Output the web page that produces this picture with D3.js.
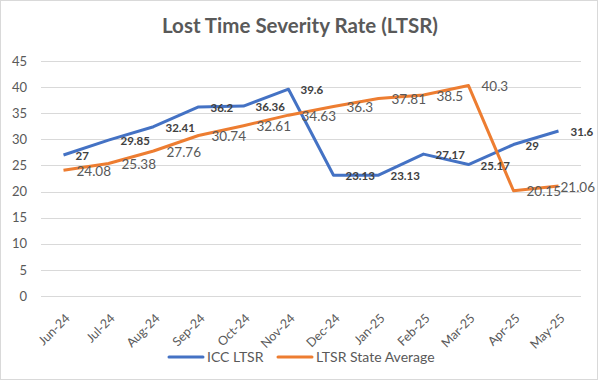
<!DOCTYPE html>
<html><head><meta charset="utf-8">
<script src="https://cdn.jsdelivr.net/npm/d3@7"></script>
<style>html,body{margin:0;padding:0;background:#fff}svg{display:block}</style>
</head><body><div id="chart"></div>
<script>
const months = ["Jun-24","Jul-24","Aug-24","Sep-24","Oct-24","Nov-24","Dec-24","Jan-25","Feb-25","Mar-25","Apr-25","May-25"];
const iccLtsr = [27, 29.85, 32.41, 36.2, 36.36, 39.6, 23.13, 23.13, 27.17, 25.17, 29, 31.6];
const stateAvg = [24.08, 25.38, 27.76, 30.74, 32.61, 34.63, 36.3, 37.81, 38.5, 40.3, 20.15, 21.06];
const yTicks = [0, 5, 10, 15, 20, 25, 30, 35, 40, 45];
const seriesNames = ["ICC LTSR", "LTSR State Average"];
const colors = ["#4472C4", "#ED7D31"];

const W = 600, H = 382;
const font = "Lato, 'Open Sans', sans-serif";
const svg = d3.select("#chart").append("svg").attr("width", W).attr("height", H);

svg.append("rect").attr("x", 0.5).attr("y", 0.5).attr("width", 597).attr("height", 379)
  .attr("fill", "#fff").attr("stroke", "#d9d9d9");

svg.append("text").attr("x", 300).attr("y", 33).attr("text-anchor", "middle")
  .attr("font-family", font).attr("font-weight", "bold").attr("font-size", 20.5)
  .attr("fill", "#595959").text("Lost Time Severity Rate (LTSR)");

const x = d3.scalePoint().domain(months).range([41, 581]).padding(0.5);
const y = d3.scaleLinear().domain([0, 45]).range([296, 61]);

const grid = svg.append("g");
grid.selectAll("line").data(yTicks).join("line")
  .attr("x1", 41).attr("x2", 581)
  .attr("y1", d => Math.round(y(d)) + 0.5).attr("y2", d => Math.round(y(d)) + 0.5)
  .attr("stroke", "#d9d9d9").attr("stroke-width", 1);

const yAxis = svg.append("g").attr("transform", "translate(41,0)")
  .call(d3.axisLeft(y).tickValues(yTicks).tickSize(0).tickPadding(14));
yAxis.select(".domain").remove();
yAxis.selectAll("text").attr("font-family", font).attr("font-size", 13).attr("fill", "#595959");

const xAxis = svg.append("g");
xAxis.selectAll("text").data(months).join("text")
  .attr("transform", d => `translate(${x(d) + 4},${316}) rotate(-45)`)
  .attr("text-anchor", "end").attr("dy", "0.35em")
  .attr("font-family", font).attr("font-size", 12.5).attr("fill", "#595959")
  .text(d => d);

const line = d3.line().x((d, i) => x(months[i])).y(d => y(d));
const allSeries = [iccLtsr, stateAvg];
allSeries.forEach((s, k) => {
  svg.append("path").datum(s).attr("d", line).attr("fill", "none")
    .attr("stroke", colors[k]).attr("stroke-width", 3).attr("stroke-linejoin", "round");
});

// data labels (right of points), kept inside the chart area
function placeLabels(sel, offset) {
  sel.each(function(d, i) {
    const w = this.getComputedTextLength();
    const px = x(months[i]) + offset;
    d3.select(this).attr("x", Math.min(px, 595 - w));
  });
}
svg.append("g").selectAll("text").data(iccLtsr).join("text")
  .attr("y", d => y(d) + 1)
  .attr("dy", "0.35em").attr("font-family", font).attr("font-weight", "bold")
  .attr("font-size", 11.5).attr("fill", "#404040").text(d => d)
  .call(placeLabels, 12);
svg.append("g").selectAll("text").data(stateAvg).join("text")
  .attr("y", d => y(d) + 1)
  .attr("dy", "0.35em").attr("font-family", font)
  .attr("font-size", 13.5).attr("fill", "#595959").text(d => d)
  .call(placeLabels, 13);

// legend
const legendItems = [{x: 169, tx: 207}, {x: 278, tx: 316}];
legendItems.forEach((l, k) => {
  svg.append("line").attr("x1", l.x).attr("x2", l.x + 34).attr("y1", 357).attr("y2", 357)
    .attr("stroke", colors[k]).attr("stroke-width", 3).attr("stroke-linecap", "round");
  svg.append("text").attr("x", l.tx).attr("y", 357).attr("dy", "0.35em")
    .attr("font-family", font).attr("font-size", 14).attr("fill", "#595959").text(seriesNames[k]);
});
</script></body></html>
